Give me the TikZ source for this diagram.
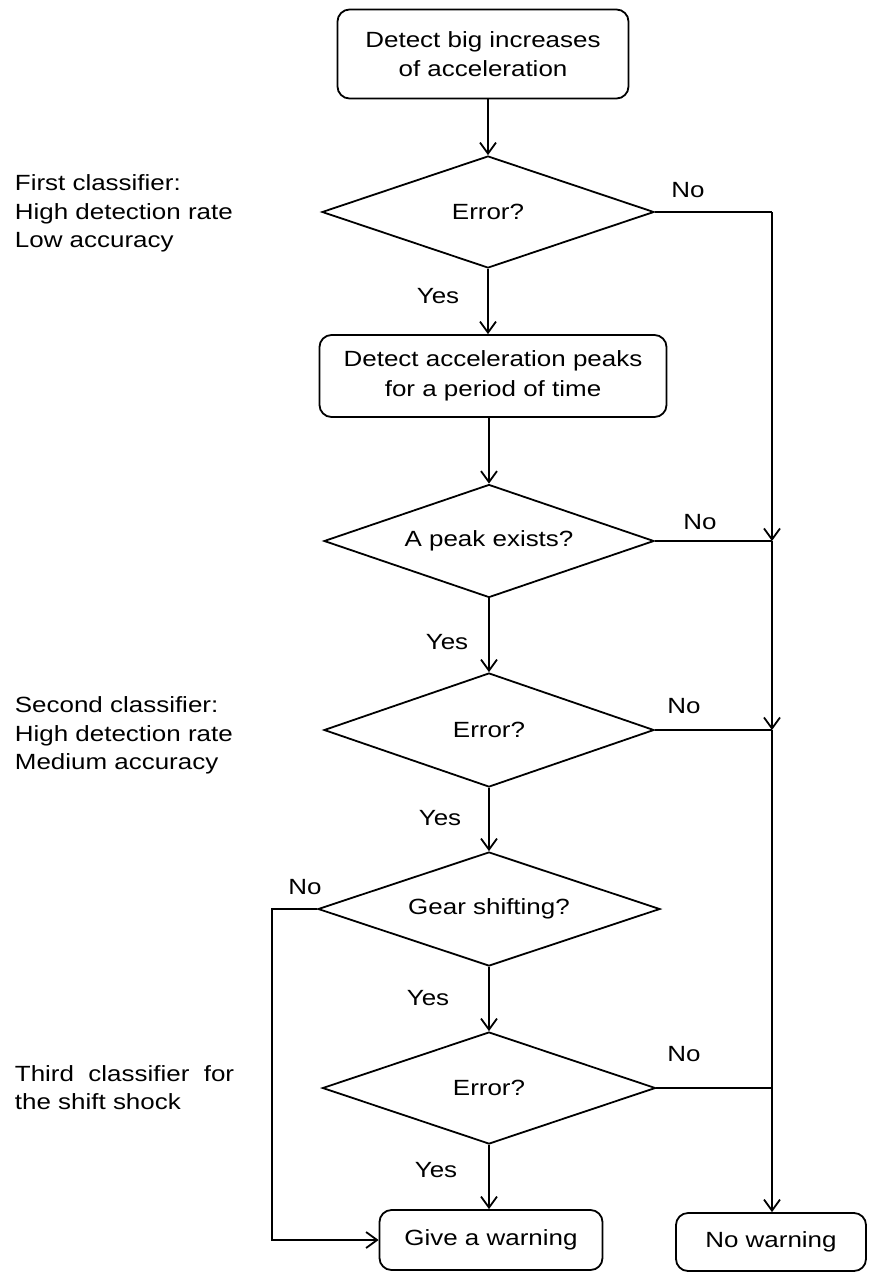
\documentclass[tikz,border=0pt]{standalone}
\usepackage{fontspec}
\setmainfont{Liberation Sans}[FakeStretch=1.18]
\usetikzlibrary{shapes.geometric,arrows.meta}
\begin{document}
\begin{tikzpicture}[x=1pt,y=-1pt,
  font=\fontsize{22}{29.5}\selectfont,
  line width=1.8pt,
  proc/.style={draw, rounded corners=12pt, align=center, inner sep=0pt},
  dec/.style={draw, diamond, aspect=3, inner sep=0pt},
  lab/.style={inner sep=0pt},
  side/.style={inner sep=0pt, align=left, anchor=west, font=\fontsize{22}{28.5}\selectfont},
  arr/.style={-{Straight Barb[length=11pt,width=16pt]}},
  ]
\useasboundingbox (0,0) rectangle (868,1272);

% process boxes
\node[proc, minimum width=291pt, minimum height=89pt] (b1) at (483,54) {Detect big increases\\of acceleration};
\node[proc, minimum width=347pt, minimum height=82pt] (b2) at (493,376) {Detect acceleration peaks\\for a period of time};
\node[proc, minimum width=223pt, minimum height=60pt] (b3) at (491,1240) {Give a warning};
\node[proc, minimum width=190pt, minimum height=58pt] (b4) at (771,1242) {No warning};

% decisions
\node[dec, minimum width=332pt, minimum height=112pt] (d1) at (488,212) {Error?};
\node[dec, minimum width=330pt, minimum height=113pt] (d2) at (489,541) {A peak exists?};
\node[dec, minimum width=330pt, minimum height=114pt] (d3) at (489,730) {Error?};
\node[dec, minimum width=342pt, minimum height=114pt] (d4) at (489,909) {Gear shifting?};
\node[dec, minimum width=333pt, minimum height=112pt] (d5) at (489,1088) {Error?};

% junctions on the right line
\coordinate (j0) at (d1.east -| 772,0);
\coordinate (j1) at (d2.east -| 772,0);
\coordinate (j2) at (d3.east -| 772,0);
\coordinate (j3) at (d5.east -| 772,0);
\coordinate (l1) at (d4.west -| 272,0);
\coordinate (l2) at (b3.west -| 272,0);

% main flow
\draw[arr] (d1.north |- b1.south) -- (d1.north);
\draw[arr] (d1.south) -- (d1.south |- b2.north);
\draw[arr] (d2.north |- b2.south) -- (d2.north);
\draw[arr] (d2.south) -- (d3.north);
\draw[arr] (d3.south) -- (d4.north);
\draw[arr] (d4.south) -- (d5.north);
\draw[arr] (d5.south) -- (d5.south |- b3.north);

% right "No" line
\draw (d1.east) -- (j0);
\draw[arr] (j0) -- (j1);
\draw[arr] (j1) -- (j2);
\draw[arr] (j2) -- (j2 |- b4.north);
\draw (d2.east) -- (j1);
\draw (d3.east) -- (j2);
\draw (d5.east) -- (j3);

% left "No" line
\draw[arr] (d4.west) -- (l1) -- (l2) -- (b3.west);

% Yes / No labels
\node[lab] (y1) at (438,296) {Yes};
\node[lab] (y2) at (447,642) {Yes};
\node[lab] (y3) at (440,818) {Yes};
\node[lab] (y4) at (428,998) {Yes};
\node[lab] (y5) at (436,1170) {Yes};
\node[lab] (n1) at (688,190) {No};
\node[lab] (n2) at (700,522) {No};
\node[lab] (n3) at (684,706) {No};
\node[lab] (n4) at (305,887) {No};
\node[lab] (n5) at (684,1054) {No};

% side notes
\node[side] (s1) at (14,213.5) {First classifier:\\High detection rate\\Low accuracy};
\node[side] (s2) at (14,735.5) {Second classifier:\\High detection rate\\Medium accuracy};
\node[side] (s3) at (14,1087.5) {Third\ \ classifier\ \ for\\the shift shock};
\end{tikzpicture}
\end{document}
